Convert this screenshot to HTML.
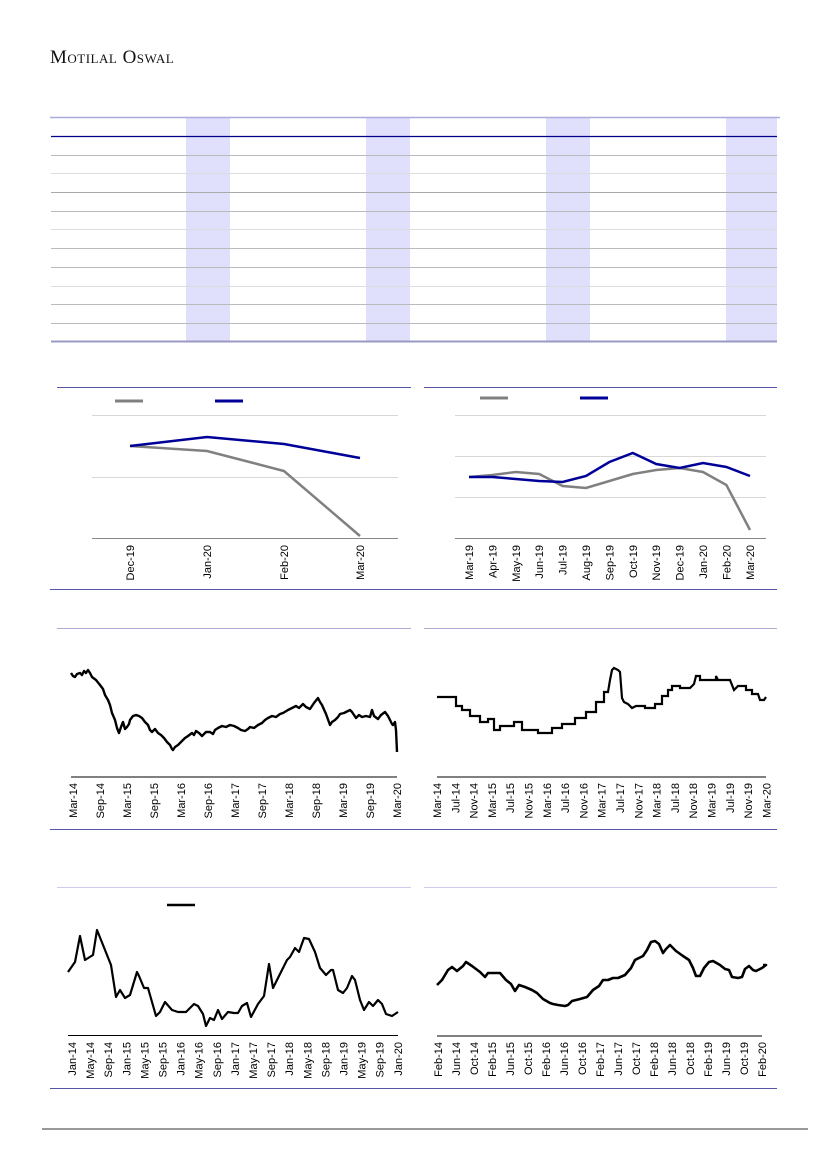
<!DOCTYPE html>
<html><head><meta charset="utf-8"><style>
html,body{margin:0;padding:0;background:#fff}
svg{display:block}
text{font-family:"Liberation Sans",sans-serif;font-size:11px;fill:#000}
</style></head><body>
<svg width="827" height="1169" viewBox="0 0 827 1169" xmlns="http://www.w3.org/2000/svg">
<text x="50" y="63" style="font-family:'Liberation Serif',serif;font-size:19px;font-variant:small-caps;letter-spacing:0.5px;fill:#111">Motilal Oswal</text>

<!-- table -->
<g fill="#e0e0fc">
<rect x="186" y="117" width="44" height="224"/><rect x="366" y="117" width="44" height="224"/>
<rect x="546" y="117" width="44" height="224"/><rect x="726" y="117" width="51" height="224"/>
</g>
<line x1="50" y1="117.5" x2="780" y2="117.5" stroke="#aaaade" stroke-width="1.5"/>
<line x1="51" y1="136.5" x2="777" y2="136.5" stroke="#000088" stroke-width="1.3"/>
<g stroke="#bbb" stroke-width="1">
<line x1="51" y1="155.5" x2="777" y2="155.5"/><line x1="51" y1="173.5" x2="777" y2="173.5" stroke="#ddd"/>
<line x1="51" y1="192.5" x2="777" y2="192.5" stroke="#aaa"/><line x1="51" y1="211.5" x2="777" y2="211.5"/>
<line x1="51" y1="229.5" x2="777" y2="229.5" stroke="#ddd"/><line x1="51" y1="248.5" x2="777" y2="248.5"/>
<line x1="51" y1="267.5" x2="777" y2="267.5"/><line x1="51" y1="286.5" x2="777" y2="286.5" stroke="#ddd"/>
<line x1="51" y1="304.5" x2="777" y2="304.5"/><line x1="51" y1="323.5" x2="777" y2="323.5"/>
</g>
<line x1="51" y1="341.5" x2="777" y2="341.5" stroke="#9999c4" stroke-width="2"/>

<!-- frames -->
<g stroke="#5555aa" stroke-width="1">
<line x1="57" y1="387.5" x2="411" y2="387.5"/><line x1="424" y1="387.5" x2="777" y2="387.5"/>
<line x1="50" y1="589.5" x2="777" y2="589.5"/>
<line x1="57" y1="628.5" x2="411" y2="628.5" stroke="#aaaad4"/><line x1="424" y1="628.5" x2="777" y2="628.5" stroke="#aaaad4"/>
<line x1="50" y1="829.5" x2="777" y2="829.5"/>
<line x1="57" y1="887.5" x2="411" y2="887.5" stroke="#ccccea"/><line x1="424" y1="887.5" x2="777" y2="887.5" stroke="#ccccea"/>
<line x1="50" y1="1088.5" x2="777" y2="1088.5"/>
</g>
<line x1="42" y1="1129" x2="808" y2="1129" stroke="#999" stroke-width="2"/>

<!-- chart 1 -->
<g stroke="#d8d8d8"><line x1="92" y1="415.5" x2="398" y2="415.5"/><line x1="92" y1="477.5" x2="398" y2="477.5"/></g>
<line x1="92" y1="538.5" x2="398" y2="538.5" stroke="#888"/>
<line x1="115" y1="401" x2="143" y2="401" stroke="#808080" stroke-width="3"/>
<line x1="215" y1="401" x2="243" y2="401" stroke="#000099" stroke-width="3"/>
<polyline points="130,446 207,451 284,471 360,536" fill="none" stroke="#808080" stroke-width="2.5"/>
<polyline points="130,446 207,437 284,444 360,458" fill="none" stroke="#000099" stroke-width="2.5"/>
<g text-anchor="end">
<text transform="translate(134,545) rotate(-90)">Dec-19</text>
<text transform="translate(211,545) rotate(-90)">Jan-20</text>
<text transform="translate(288,545) rotate(-90)">Feb-20</text>
<text transform="translate(364,545) rotate(-90)">Mar-20</text>
</g>

<!-- chart 2 -->
<g stroke="#d8d8d8"><line x1="455" y1="415.5" x2="766" y2="415.5"/><line x1="455" y1="456.5" x2="766" y2="456.5"/><line x1="455" y1="497.5" x2="766" y2="497.5"/></g>
<line x1="455" y1="538.5" x2="766" y2="538.5" stroke="#888"/>
<line x1="480" y1="398" x2="508" y2="398" stroke="#808080" stroke-width="3"/>
<line x1="580" y1="398" x2="608" y2="398" stroke="#000099" stroke-width="3"/>
<polyline points="469,477 492.4,475 515.8,472 539.2,474 562.6,486 586,488 609.4,481 632.8,474 656.2,470 679.6,468 703,472 726.4,485 750,530" fill="none" stroke="#808080" stroke-width="2.5"/>
<polyline points="469,477 492.4,477 515.8,479 539.2,481 562.6,482 586,476 609.4,462 632.8,453 656.2,464 679.6,468 703,463 726.4,467 750,476" fill="none" stroke="#000099" stroke-width="2.5"/>
<g text-anchor="end">
<text transform="translate(473,545) rotate(-90)">Mar-19</text>
<text transform="translate(496.4,545) rotate(-90)">Apr-19</text>
<text transform="translate(519.8,545) rotate(-90)">May-19</text>
<text transform="translate(543.2,545) rotate(-90)">Jun-19</text>
<text transform="translate(566.6,545) rotate(-90)">Jul-19</text>
<text transform="translate(590,545) rotate(-90)">Aug-19</text>
<text transform="translate(613.4,545) rotate(-90)">Sep-19</text>
<text transform="translate(636.8,545) rotate(-90)">Oct-19</text>
<text transform="translate(660.2,545) rotate(-90)">Nov-19</text>
<text transform="translate(683.6,545) rotate(-90)">Dec-19</text>
<text transform="translate(707,545) rotate(-90)">Jan-20</text>
<text transform="translate(730.4,545) rotate(-90)">Feb-20</text>
<text transform="translate(754,545) rotate(-90)">Mar-20</text>
</g>

<!-- chart 3 -->
<line x1="71" y1="777" x2="397" y2="777" stroke="#000" stroke-width="1"/>
<polyline points="71,673 73,676 75,677 77,674 80,673 82,675 84,671 86,673 88,670 90,673 92,677 96,680 100,685 103,689 105,695 108,700 110,705 112,713 115,720 117,728 119,733 121,727 123,722 125,729 127,727 129,724 130,720 133,716 136,715 139,716 142,718 145,722 148,725 150,730 152,732 155,729 158,733 161,735 164,738 167,742 170,745 172,749 173,750 175,747 178,745 181,742 185,738 188,736 192,733 194,735 196,731 199,733 202,736 206,732 210,732 213,734 215,730 218,728 222,726 226,727 230,725 234,726 238,728 241,730 245,731 248,729 250,727 254,728 258,725 262,723 265,720 268,718 272,716 276,717 280,714 283,713 288,710 292,708 296,706 299,708 303,704 306,707 310,709 314,703 318,698 320,702 322,705 326,714 330,725 332,722 335,720 338,717 340,714 344,713 348,711 350,710 352,712 354,715 356,718 359,715 362,717 366,716 370,717 372,710 374,716 378,719 381,715 385,712 388,716 390,720 392,724 393,725 395,722 396,730 397,752" fill="none" stroke="#000" stroke-width="2.4" stroke-linejoin="round"/>
<g text-anchor="end">
<text transform="translate(77,783) rotate(-90)">Mar-14</text>
<text transform="translate(104,783) rotate(-90)">Sep-14</text>
<text transform="translate(131,783) rotate(-90)">Mar-15</text>
<text transform="translate(158,783) rotate(-90)">Sep-15</text>
<text transform="translate(185,783) rotate(-90)">Mar-16</text>
<text transform="translate(212,783) rotate(-90)">Sep-16</text>
<text transform="translate(239,783) rotate(-90)">Mar-17</text>
<text transform="translate(266,783) rotate(-90)">Sep-17</text>
<text transform="translate(293,783) rotate(-90)">Mar-18</text>
<text transform="translate(320,783) rotate(-90)">Sep-18</text>
<text transform="translate(347,783) rotate(-90)">Mar-19</text>
<text transform="translate(374,783) rotate(-90)">Sep-19</text>
<text transform="translate(401,783) rotate(-90)">Mar-20</text>
</g>

<!-- chart 4 -->
<line x1="437" y1="777" x2="766" y2="777" stroke="#000" stroke-width="1"/>
<polyline points="437,697 456,697 456,706 462,706 462,710 470,710 470,716 480,716 480,722 488,722 488,719 494,719 494,730 500,730 500,726 514,726 514,722 522,722 522,730 538,730 538,733 552,733 552,728 562,728 562,724 575,724 575,718 586,718 586,712 596,712 596,702 604,702 604,692 608,692 610,680 612,670 614,668 618,670 620,672 622,698 624,702 628,704 632,708 636,706 645,706 645,708 655,708 655,704 662,704 662,696 668,696 668,690 672,690 672,686 680,686 680,688 690,688 694,684 696,676 700,676 700,680 716,680 716,676 718,680 730,680 734,690 738,686 746,686 746,690 752,690 752,694 758,694 760,700 764,700 766,697" fill="none" stroke="#000" stroke-width="2.2"/>
<g text-anchor="end">
<text transform="translate(441,783) rotate(-90)">Mar-14</text>
<text transform="translate(459.3,783) rotate(-90)">Jul-14</text>
<text transform="translate(477.6,783) rotate(-90)">Nov-14</text>
<text transform="translate(495.9,783) rotate(-90)">Mar-15</text>
<text transform="translate(514.2,783) rotate(-90)">Jul-15</text>
<text transform="translate(532.5,783) rotate(-90)">Nov-15</text>
<text transform="translate(550.8,783) rotate(-90)">Mar-16</text>
<text transform="translate(569.1,783) rotate(-90)">Jul-16</text>
<text transform="translate(587.4,783) rotate(-90)">Nov-16</text>
<text transform="translate(605.7,783) rotate(-90)">Mar-17</text>
<text transform="translate(624,783) rotate(-90)">Jul-17</text>
<text transform="translate(642.3,783) rotate(-90)">Nov-17</text>
<text transform="translate(660.6,783) rotate(-90)">Mar-18</text>
<text transform="translate(678.9,783) rotate(-90)">Jul-18</text>
<text transform="translate(697.2,783) rotate(-90)">Nov-18</text>
<text transform="translate(715.5,783) rotate(-90)">Mar-19</text>
<text transform="translate(733.8,783) rotate(-90)">Jul-19</text>
<text transform="translate(752.1,783) rotate(-90)">Nov-19</text>
<text transform="translate(770.4,783) rotate(-90)">Mar-20</text>
</g>

<!-- chart 5 -->
<line x1="68" y1="1035.5" x2="398" y2="1035.5" stroke="#000" stroke-width="1"/>
<line x1="167" y1="905" x2="195" y2="905" stroke="#000" stroke-width="2.5"/>
<polyline points="68,972 75,962 80,936 85,960 93,955 97,930 105,950 111,965 116,997 120,990 125,998 130,995 137,972 139,976 144,988 148,988 156,1016 160,1012 165,1002 172,1010 178,1012 186,1012 190,1008 194,1004 198,1006 203,1014 206,1026 210,1018 214,1020 218,1010 222,1019 228,1012 234,1013 238,1013 242,1006 247,1003 251,1017 258,1004 264,996 269,964 273,988 280,974 287,960 290,957 295,948 299,952 304,938 309,939 315,952 320,968 326,975 331,970 333,970 338,990 343,993 347,988 352,976 355,980 360,1000 364,1010 369,1002 373,1006 378,1000 382,1004 386,1014 392,1016 398,1012" fill="none" stroke="#000" stroke-width="2.2" stroke-linejoin="round"/>
<g text-anchor="end">
<text transform="translate(76,1042) rotate(-90)">Jan-14</text>
<text transform="translate(94.1,1042) rotate(-90)">May-14</text>
<text transform="translate(112.2,1042) rotate(-90)">Sep-14</text>
<text transform="translate(130.3,1042) rotate(-90)">Jan-15</text>
<text transform="translate(148.4,1042) rotate(-90)">May-15</text>
<text transform="translate(166.5,1042) rotate(-90)">Sep-15</text>
<text transform="translate(184.6,1042) rotate(-90)">Jan-16</text>
<text transform="translate(202.7,1042) rotate(-90)">May-16</text>
<text transform="translate(220.8,1042) rotate(-90)">Sep-16</text>
<text transform="translate(238.9,1042) rotate(-90)">Jan-17</text>
<text transform="translate(257,1042) rotate(-90)">May-17</text>
<text transform="translate(275.1,1042) rotate(-90)">Sep-17</text>
<text transform="translate(293.2,1042) rotate(-90)">Jan-18</text>
<text transform="translate(311.3,1042) rotate(-90)">May-18</text>
<text transform="translate(329.4,1042) rotate(-90)">Sep-18</text>
<text transform="translate(347.5,1042) rotate(-90)">Jan-19</text>
<text transform="translate(365.6,1042) rotate(-90)">May-19</text>
<text transform="translate(383.7,1042) rotate(-90)">Sep-19</text>
<text transform="translate(402,1042) rotate(-90)">Jan-20</text>
</g>

<!-- chart 6 -->
<line x1="437" y1="1036" x2="762" y2="1036" stroke="#000" stroke-width="1"/>
<polyline points="437,985 442,980 448,970 452,967 457,971 463,966 466,962 472,966 480,972 485,977 488,973 495,973 500,973 506,980 511,984 515,991 519,985 525,987 532,990 537,993 543,999 550,1003 553,1004 558,1005 565,1006 568,1005 572,1001 580,999 587,997 593,990 599,986 603,980 608,980 613,978 618,978 625,975 631,968 635,960 643,956 647,950 651,942 655,941 659,944 663,953 666,949 670,945 676,951 683,956 689,960 693,968 696,976 700,976 704,968 709,962 713,961 720,965 725,969 729,970 732,977 738,978 742,977 745,969 749,966 753,970 756,971 762,968 766,965 763,965" fill="none" stroke="#000" stroke-width="2.6" stroke-linejoin="round"/>
<g text-anchor="end">
<text transform="translate(442,1042) rotate(-90)">Feb-14</text>
<text transform="translate(460,1042) rotate(-90)">Jun-14</text>
<text transform="translate(478,1042) rotate(-90)">Oct-14</text>
<text transform="translate(496,1042) rotate(-90)">Feb-15</text>
<text transform="translate(514,1042) rotate(-90)">Jun-15</text>
<text transform="translate(532,1042) rotate(-90)">Oct-15</text>
<text transform="translate(550,1042) rotate(-90)">Feb-16</text>
<text transform="translate(568,1042) rotate(-90)">Jun-16</text>
<text transform="translate(586,1042) rotate(-90)">Oct-16</text>
<text transform="translate(604,1042) rotate(-90)">Feb-17</text>
<text transform="translate(622,1042) rotate(-90)">Jun-17</text>
<text transform="translate(640,1042) rotate(-90)">Oct-17</text>
<text transform="translate(658,1042) rotate(-90)">Feb-18</text>
<text transform="translate(676,1042) rotate(-90)">Jun-18</text>
<text transform="translate(694,1042) rotate(-90)">Oct-18</text>
<text transform="translate(712,1042) rotate(-90)">Feb-19</text>
<text transform="translate(730,1042) rotate(-90)">Jun-19</text>
<text transform="translate(748,1042) rotate(-90)">Oct-19</text>
<text transform="translate(766,1042) rotate(-90)">Feb-20</text>
</g>
</svg>
</body></html>
